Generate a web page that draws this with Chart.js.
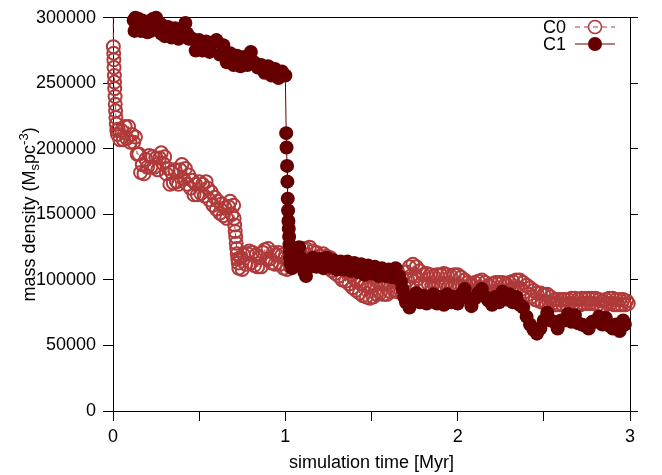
<!DOCTYPE html>
<html>
<head>
<meta charset="utf-8">
<script src="https://cdn.jsdelivr.net/npm/chart.js@4.4.1/dist/chart.umd.min.js"></script>
<style>
  body { margin: 0; background: #fff; }
  canvas { display: block; }
</style>
</head>
<body>
<canvas id="densityChart" width="662" height="475"></canvas>
<script>
// C0 cluster, time in Myr and density in Msun pc^-3
const c0Time = [
  0, 0.002, 0.004, 0.005, 0.006, 0.008, 0.009, 0.010, 0.012, 0.013,
  0.015, 0.017, 0.019, 0.022, 0.026,
  0.03, 0.04, 0.05, 0.06, 0.07, 0.08, 0.09, 0.10, 0.11, 0.12,
  0.13, 0.14, 0.15, 0.16, 0.17, 0.18, 0.19, 0.20, 0.21, 0.22,
  0.23, 0.24, 0.25, 0.26, 0.27, 0.28, 0.29, 0.30, 0.31, 0.32,
  0.33, 0.34, 0.35, 0.36, 0.37, 0.38, 0.39, 0.40, 0.41, 0.42,
  0.43, 0.44, 0.45, 0.46, 0.47, 0.48, 0.49, 0.50, 0.51, 0.52,
  0.53, 0.54, 0.55, 0.56, 0.57, 0.58, 0.59, 0.60, 0.61, 0.62,
  0.63, 0.64, 0.65, 0.66, 0.67, 0.68, 0.69, 0.70,
  0.703, 0.706, 0.709, 0.712, 0.715, 0.718, 0.721, 0.724, 0.727,
  0.73, 0.74, 0.75, 0.76, 0.77, 0.78, 0.79, 0.80, 0.81, 0.82,
  0.83, 0.84, 0.85, 0.86, 0.87, 0.88, 0.89, 0.90, 0.91, 0.92,
  0.93, 0.94, 0.95, 0.96, 0.97, 0.98, 0.99, 1.00, 1.01, 1.02,
  1.03, 1.04, 1.05, 1.06, 1.07, 1.08, 1.09, 1.10, 1.11, 1.12,
  1.13, 1.14, 1.15, 1.16, 1.17, 1.18, 1.19, 1.20, 1.21, 1.22,
  1.23, 1.24, 1.25, 1.26, 1.27, 1.28, 1.29, 1.30, 1.31, 1.32,
  1.33, 1.34, 1.35, 1.36, 1.37, 1.38, 1.39, 1.40, 1.41, 1.42,
  1.43, 1.44, 1.45, 1.46, 1.47, 1.48, 1.49, 1.50, 1.51, 1.52,
  1.53, 1.54, 1.55, 1.56, 1.57, 1.58, 1.59, 1.60, 1.61, 1.62,
  1.63, 1.64, 1.65, 1.66, 1.67, 1.68, 1.69, 1.70, 1.71, 1.72,
  1.73, 1.74, 1.75, 1.76, 1.77, 1.78, 1.79, 1.80, 1.81, 1.82,
  1.83, 1.84, 1.85, 1.86, 1.87, 1.88, 1.89, 1.90, 1.91, 1.92,
  1.93, 1.94, 1.95, 1.96, 1.97, 1.98, 1.99, 2.00, 2.01, 2.02,
  2.03, 2.04, 2.05, 2.06, 2.07, 2.08, 2.09, 2.10, 2.11, 2.12,
  2.13, 2.14, 2.15, 2.16, 2.17, 2.18, 2.19, 2.20, 2.21, 2.22,
  2.23, 2.24, 2.25, 2.26, 2.27, 2.28, 2.29, 2.30, 2.31, 2.32,
  2.33, 2.34, 2.35, 2.36, 2.37, 2.38, 2.39, 2.40, 2.41, 2.42,
  2.43, 2.44, 2.45, 2.46, 2.47, 2.48, 2.49, 2.50, 2.51, 2.52,
  2.53, 2.54, 2.55, 2.56, 2.57, 2.58, 2.59, 2.60, 2.61, 2.62,
  2.63, 2.64, 2.65, 2.66, 2.67, 2.68, 2.69, 2.70, 2.71, 2.72,
  2.73, 2.74, 2.75, 2.76, 2.77, 2.78, 2.79, 2.80, 2.81, 2.82,
  2.83, 2.84, 2.85, 2.86, 2.87, 2.88, 2.89, 2.90, 2.91, 2.92,
  2.93, 2.94, 2.95, 2.96, 2.97, 2.98, 2.99
];
const c0Density = [
  330000, 278000, 273000, 268000, 262000, 256000, 251000, 246000, 240000, 234000,
  229000, 224000, 219000, 214000, 211000,
  215000, 207000, 214000, 207000, 217000, 208000, 217000, 205000, 211000, 205000,
  209000, 196000, 196000, 182000, 188000, 181000, 192000, 186000, 195000, 186000,
  194000, 186000, 193000, 184000, 193000, 197000, 189000, 194000, 181000, 185000,
  173000, 182000, 174000, 184000, 175000, 173000, 184000, 188000, 177000, 185000,
  173000, 180000, 170000, 176000, 165000, 173000, 165000, 175000, 166000, 173000,
  164000, 175000, 170000, 161000, 167000, 157000, 163000, 154000, 160000, 151000,
  158000, 149000, 155000, 147000, 156000, 160000, 150000, 157000,
  147000, 142000, 137000, 133000, 128000, 124000, 120000, 116000, 113000,
  109000, 117000, 108000, 119000, 112000, 120000, 122000, 113000, 121000, 111000,
  119000, 110000, 117000, 110000, 121000, 123000, 116000, 124000, 116000, 113000,
  121000, 112000, 119000, 121000, 112000, 119000, 109000, 117000, 108000, 115000,
  110000, 120000, 113000, 123000, 115000, 122000, 114000, 124000, 117000, 124000,
  116000, 125000, 116000, 122000, 114000, 121000, 112000, 118000, 111000, 120000,
  111000, 118000, 109000, 117000, 107000, 114000, 105000, 112000, 103000, 110000,
  100000, 108000, 99000, 106000, 97000, 104000, 94000, 101000, 92000, 99000,
  90000, 97000, 88000, 96000, 87000, 95000, 86000, 95000, 87000, 96000,
  89000, 98000, 90000, 98000, 89000, 97000, 89000, 98000, 91000, 100000,
  92000, 100000, 91000, 99000, 92000, 101000, 95000, 106000, 100000, 110000,
  103000, 112000, 103000, 110000, 101000, 107000, 97000, 104000, 96000, 105000,
  97000, 104000, 95000, 103000, 95000, 104000, 96000, 104000, 96000, 105000,
  97000, 104000, 95000, 103000, 95000, 104000, 96000, 104000, 95000, 102000,
  95000, 100000, 93000, 98000, 91000, 97000, 91000, 98000, 92000, 99000,
  94000, 100000, 93000, 98000, 91000, 96000, 90000, 97000, 91000, 98000,
  92000, 98000, 92000, 98000, 91000, 97000, 92000, 98000, 92000, 99000,
  93000, 100000, 94000, 100000, 93000, 98000, 91000, 96000, 89000, 94000,
  87000, 92000, 85000, 90000, 84000, 90000, 83000, 89000, 83000, 89000,
  83000, 87000, 82000, 85000, 81000, 85000, 81000, 85000, 81000, 85000,
  81000, 85000, 82000, 86000, 82000, 86000, 81000, 85000, 81000, 86000,
  82000, 86000, 82000, 86000, 82000, 86000, 82000, 86000, 81000, 85000,
  80000, 84000, 80000, 85000, 82000, 86000, 82000, 86000, 81000, 85000,
  81000, 85000, 81000, 85000, 81000, 84000, 82000
];

// C1 cluster
const c1Time = [
  0.12, 0.125, 0.13, 0.14, 0.15, 0.16, 0.17, 0.18, 0.19, 0.20,
  0.21, 0.22, 0.23, 0.24, 0.25, 0.26, 0.27, 0.28, 0.29, 0.30,
  0.32, 0.34, 0.36, 0.38, 0.40, 0.42, 0.43, 0.44, 0.46, 0.48,
  0.50, 0.52, 0.54, 0.56, 0.58, 0.60, 0.62, 0.64, 0.66, 0.68,
  0.70, 0.72, 0.74, 0.76, 0.78, 0.80, 0.82, 0.84, 0.86, 0.88,
  0.90, 0.92, 0.94, 0.96, 0.98, 1.00, 1.005, 1.007, 1.010, 1.012,
  1.014, 1.016, 1.018, 1.020, 1.022, 1.024, 1.026, 1.028, 1.03, 1.04,
  1.05, 1.06, 1.08, 1.09, 1.10, 1.11, 1.12, 1.14, 1.16, 1.18,
  1.20, 1.22, 1.24, 1.26, 1.28, 1.30, 1.32, 1.34, 1.36, 1.38,
  1.40, 1.42, 1.44, 1.46, 1.48, 1.50, 1.52, 1.54, 1.56, 1.58,
  1.60, 1.62, 1.64, 1.66, 1.67, 1.68, 1.69, 1.70, 1.72, 1.74,
  1.76, 1.78, 1.80, 1.82, 1.84, 1.86, 1.88, 1.90, 1.92, 1.94,
  1.96, 1.98, 2.00, 2.02, 2.04, 2.06, 2.08, 2.10, 2.12, 2.14,
  2.16, 2.18, 2.20, 2.22, 2.24, 2.26, 2.28, 2.30, 2.32, 2.34,
  2.36, 2.38, 2.40, 2.42, 2.44, 2.46, 2.48, 2.50, 2.52, 2.54,
  2.56, 2.58, 2.60, 2.62, 2.64, 2.66, 2.68, 2.70, 2.72, 2.74,
  2.76, 2.78, 2.80, 2.82, 2.84, 2.86, 2.88, 2.90, 2.92, 2.94,
  2.96, 2.97
];
const c1Density = [
  298000, 290000, 300000, 291000, 299000, 290000, 298000, 290000, 297000, 289000,
  297000, 290000, 299000, 292000, 300000, 291000, 296000, 288000, 294000, 286000,
  293000, 285000, 292000, 284000, 291000, 296000, 288000, 284000, 284000, 275000,
  283000, 275000, 282000, 274000, 281000, 283000, 272000, 279000, 266000, 273000,
  264000, 271000, 263000, 270000, 264000, 274000, 266000, 262000, 264000, 258000,
  263000, 256000, 261000, 254000, 259000, 256000, 212000, 201000, 187000, 175000,
  162000, 153000, 145000, 139000, 133000, 127000, 122000, 117000, 113000, 109000,
  115000, 119000, 125000, 117000, 113000, 106000, 103000, 110000, 117000, 110000,
  116000, 109000, 117000, 110000, 115000, 108000, 114000, 108000, 114000, 107000,
  113000, 106000, 112000, 104000, 111000, 105000, 110000, 103000, 109000, 103000,
  108000, 102000, 109000, 103000, 99000, 93000, 87000, 83000, 79000, 87000,
  90000, 83000, 88000, 82000, 87000, 89000, 82000, 87000, 81000, 89000,
  83000, 87000, 82000, 89000, 93000, 86000, 80000, 86000, 90000, 93000,
  87000, 84000, 81000, 87000, 83000, 91000, 85000, 89000, 83000, 87000,
  81000, 79000, 72000, 66000, 62000, 59000, 63000, 69000, 75000, 69000,
  68000, 63000, 69000, 69000, 74000, 68000, 73000, 67000, 66000, 65000,
  63000, 68000, 68000, 72000, 66000, 71000, 65000, 63000, 66000, 61000,
  69000, 66000
];

const seriesNames = ['C0', 'C1'];
const xTicks = [0, 0.5, 1, 1.5, 2, 2.5, 3];
const yTicks = [0, 50000, 100000, 150000, 200000, 250000, 300000];

const toPoints = (xs, ys) => xs.map((x, i) => ({ x: x, y: ys[i] }));
const setTicks = list => scale => { scale.ticks = list.map(v => ({ value: v })); };

Chart.defaults.font.family = '"Liberation Sans", Arial, sans-serif';
Chart.defaults.font.size = 18;
Chart.defaults.color = '#000';

// y title with sub/superscript and gnuplot style key
const decorations = {
  id: 'decorations',
  afterDraw(chart) {
    const ctx = chart.ctx;
    const area = chart.chartArea;
    const family = Chart.defaults.font.family;

    ctx.save();
    ctx.translate(35, (area.top + area.bottom) / 2);
    ctx.rotate(-Math.PI / 2);
    ctx.fillStyle = '#000';
    ctx.textBaseline = 'alphabetic';
    const parts = [
      ['mass density (M', 18, 0],
      ['s', 13, 4],
      ['pc', 18, 0],
      ['-3', 13, -7],
      [')', 18, 0]
    ];
    let total = 0;
    parts.forEach(p => { ctx.font = p[1] + 'px ' + family; total += ctx.measureText(p[0]).width; });
    let tx = -total / 2;
    parts.forEach(p => {
      ctx.font = p[1] + 'px ' + family;
      ctx.textAlign = 'left';
      ctx.fillText(p[0], tx, p[2]);
      tx += ctx.measureText(p[0]).width;
    });
    ctx.restore();

    ctx.save();
    chart.data.datasets.forEach((ds, i) => {
      const y = 27 + i * 17;
      ctx.font = '18px ' + family;
      ctx.fillStyle = '#000';
      ctx.textAlign = 'right';
      ctx.textBaseline = 'middle';
      ctx.fillText(ds.label, 566, y + 1);
      ctx.strokeStyle = ds.borderColor;
      ctx.lineWidth = 1;
      ctx.setLineDash(ds.borderDash || []);
      ctx.beginPath();
      ctx.moveTo(575, y);
      ctx.lineTo(615, y);
      ctx.stroke();
      ctx.setLineDash([]);
      ctx.beginPath();
      ctx.arc(595, y, ds.keyRadius, 0, Math.PI * 2);
      if (ds.pointBackgroundColor !== 'rgba(0,0,0,0)') {
        ctx.fillStyle = ds.pointBackgroundColor;
        ctx.fill();
      } else {
        ctx.lineWidth = 1.5;
        ctx.strokeStyle = ds.pointBorderColor;
        ctx.stroke();
      }
    });
    ctx.restore();
  }
};

new Chart(document.getElementById('densityChart'), {
  type: 'scatter',
  data: {
    datasets: [
      {
        label: seriesNames[0],
        data: toPoints(c0Time, c0Density),
        showLine: true,
        borderColor: '#b03a3a',
        borderWidth: 1,
        borderDash: [5, 4],
        pointBackgroundColor: 'rgba(0,0,0,0)',
        pointBorderColor: '#b03a3a',
        pointBorderWidth: 2,
        pointRadius: ctx => (ctx.raw && ctx.raw.y > 300000 ? 0 : 6.5),
        keyRadius: 6.5,
        clip: { left: 10, top: 0, right: 10, bottom: 10 },
        order: 2
      },
      {
        label: seriesNames[1],
        data: toPoints(c1Time, c1Density),
        showLine: true,
        borderColor: '#660000',
        borderWidth: 1,
        pointBackgroundColor: '#660000',
        pointBorderColor: '#660000',
        pointBorderWidth: 0,
        pointRadius: 7,
        keyRadius: 7,
        clip: false,
        order: 1
      }
    ]
  },
  options: {
    responsive: false,
    animation: false,
    devicePixelRatio: 1,
    layout: { padding: { top: 11, left: 0, right: 0, bottom: 0 }, autoPadding: false },
    plugins: {
      legend: { display: false },
      tooltip: { enabled: false }
    },
    scales: {
      x: {
        type: 'linear',
        position: 'bottom',
        min: 0,
        max: 3,
        afterBuildTicks: setTicks(xTicks),
        afterFit: s => { s.height = 64; },
        ticks: {
          callback: v => (Number.isInteger(v) ? String(v) : ''),
          padding: 5,
          maxRotation: 0,
          autoSkip: false
        },
        grid: { drawOnChartArea: false, tickLength: 10, color: '#000' },
        border: { color: '#000', width: 1 },
        title: { display: true, text: 'simulation time [Myr]', padding: { top: 0, bottom: 1 } }
      },
      xTop: {
        type: 'linear',
        position: 'top',
        min: 0,
        max: 3,
        afterFit: s => { s.height = 0; },
        ticks: { display: false },
        grid: { display: false },
        border: { color: '#000', width: 1 }
      },
      y: {
        type: 'linear',
        position: 'left',
        min: 0,
        max: 300000,
        afterBuildTicks: setTicks(yTicks),
        afterFit: s => { s.width = 113; },
        ticks: { callback: v => String(v), padding: 7 },
        grid: { drawOnChartArea: false, tickLength: 10, color: '#000' },
        border: { color: '#000', width: 1 }
      },
      yRight: {
        type: 'linear',
        position: 'right',
        min: 0,
        max: 300000,
        afterBuildTicks: setTicks(yTicks),
        afterFit: s => { s.width = 32; },
        ticks: { display: false },
        grid: { drawOnChartArea: false, tickLength: 8, color: '#000' },
        border: { color: '#000', width: 1 }
      }
    }
  },
  plugins: [decorations]
});
</script>
</body>
</html>
